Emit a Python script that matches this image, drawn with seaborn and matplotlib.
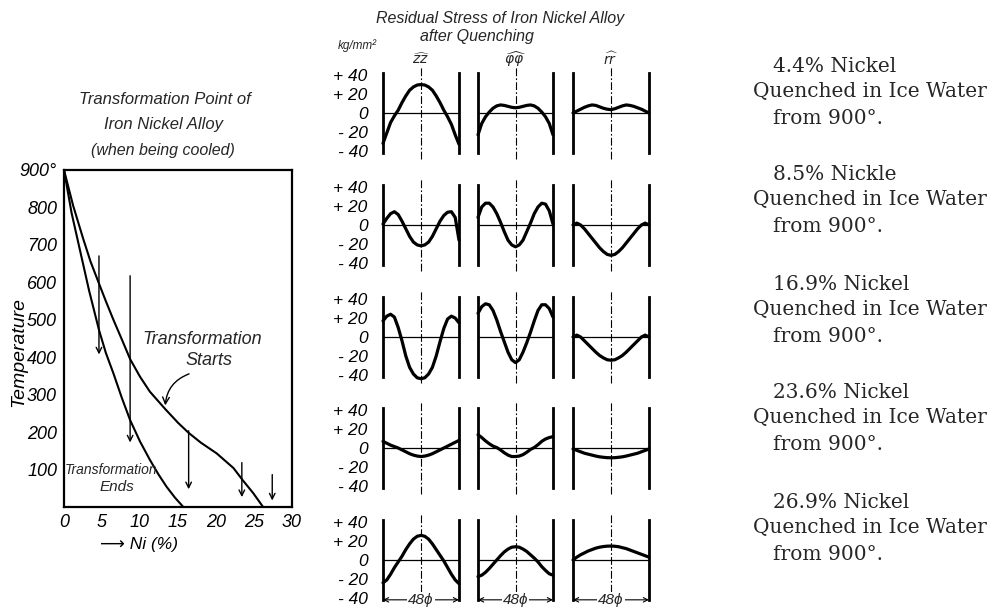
import matplotlib
matplotlib.use("Agg")
import matplotlib.pyplot as plt
import seaborn as sns

sns.set_theme(style="white")
HAND = ["Liberation Sans Narrow", "Liberation Sans", "DejaVu Sans"]
PRINT = ["DejaVu Serif"]
plt.rcParams["font.family"] = HAND
plt.rcParams["mathtext.fontset"] = "dejavusans"
plt.rcParams["axes.edgecolor"] = "black"

W, H = 997, 609

# ── transformation point curves (Ni %, temperature) ─────────────────────────
NI_START = [0, 1.2, 2.5, 3.5, 4.6, 5.5, 6.5, 7.6, 8.7, 10, 11.3, 13.3, 15, 16.4,
            18, 20.1, 22.3, 23.5, 24.9, 26.2]
T_START = [900, 805, 718, 655, 597, 550, 500, 448, 395, 348, 308, 262, 225, 198,
           172, 143, 104, 72, 37, 0]
NI_END = [0, 1.0, 2.1, 3.3, 4.6, 5.5, 6.5, 7.6, 8.7, 10, 11.3, 12.4, 13.5, 14.6, 15.7]
T_END = [900, 785, 686, 578, 473, 412, 357, 292, 232, 175, 126, 88, 54, 25, 0]

# quenched samples marked with arrows
ARROW_NI = [4.6, 8.7, 16.4, 23.4, 27.4]
ARROW_TOP = [678, 625, 211, 126, 94]
ARROW_BOTTOM = [400, 165, 40, 19, 10]

NI_TICKS = [0, 5, 10, 15, 20, 25, 30]
TEMP_TICKS = [100, 200, 300, 400, 500, 600, 700, 800, 900]
TEMP_LABELS = ["100", "200", "300", "400", "500", "600", "700", "800", "900°"]

# ── residual stress (kg/mm²) along the diameter, -1 .. +1 ───────────────────
X_POS = [-1.0, -0.9, -0.8, -0.7, -0.6, -0.5, -0.4, -0.3, -0.2, -0.1, 0.0,
         0.1, 0.2, 0.3, 0.4, 0.5, 0.6, 0.7, 0.8, 0.9, 1.0]

ZZ_44 = [-32, -21, -10, -3, 3, 11, 18, 24, 27.5, 29.5, 30, 29.5, 27.5, 24, 18, 11, 3, -4, -12, -23, -33]
PHI_44 = [-23, -11, -4, 1, 5, 7.5, 8.5, 8, 7, 6, 5.5, 6, 7, 8, 8.5, 7.5, 5, 1, -4, -11, -23]
RR_44 = [0, 2, 4, 6, 7.5, 8.5, 8, 6.5, 5, 4, 3.5, 4.5, 6, 7.5, 8.5, 8, 7, 5.5, 4, 2, 0]

ZZ_85 = [1, 7, 12, 14, 11, 4, -4, -12, -18, -21, -22, -21, -18, -12, -4, 4, 10, 13.5, 14, 8, -16]
PHI_85 = [8, 19, 23, 23, 19, 12, 3, -7, -16, -21, -23, -21, -16, -7, 2, 12, 19, 23, 22, 15, 1]
RR_85 = [0, 2, 0, -4, -9, -14, -19, -24, -28, -31, -32, -31, -28, -24, -19, -14, -9, -4, 0, 2, 0]

ZZ_169 = [17, 22, 24, 21, 10, -4, -20, -32, -39, -43, -44, -43, -39, -32, -20, -5, 9, 19, 22, 20, 15]
PHI_169 = [25, 32, 35, 34, 28, 18, 6, -5, -16, -24, -27, -24, -16, -6, 5, 17, 28, 34, 34, 30, 21]
RR_169 = [0, 2, 0, -4, -8, -12, -16, -19.5, -22, -24, -24.5, -24, -22, -19.5, -16, -12, -8, -4, 0, 2, 0]

ZZ_236 = [7, 5, 3, 1.5, 0, -2, -4, -6, -7.5, -8.5, -9, -8.5, -7.5, -6, -4, -2, 0, 2, 4, 6, 8]
PHI_236 = [14, 11, 7.5, 4.5, 2, 0.5, -2, -5, -7.5, -9, -9, -8.5, -7, -4.5, -1.5, 0.5, 3.5, 7, 9.5, 11, 12]
RR_236 = [-1, -2.5, -4, -5.5, -6.5, -7.5, -8.5, -9.3, -9.8, -10.2, -10.3, -10.2, -9.8, -9.3, -8.5, -7.5, -6.5, -5.5, -4, -2.5, -1]

ZZ_269 = [-24, -21, -15, -8, -2, 4, 11, 17, 22, 25, 26, 25, 22, 17, 11, 5, -1, -8, -15, -21, -25]
PHI_269 = [-17.5, -16, -13, -9, -4.5, 0, 4.5, 8.5, 11.5, 13.5, 14, 13.5, 11.5, 9, 5.5, 2, -2, -7, -11, -14.5, -16]
RR_269 = [0, 3, 5.5, 7.5, 9.5, 11, 12.5, 13.5, 14.2, 14.6, 14.7, 14.5, 14, 13, 12, 10.5, 9, 7.5, 6, 4.5, 3]

STRESS_ROWS = [
    [ZZ_44, PHI_44, RR_44],
    [ZZ_85, PHI_85, RR_85],
    [ZZ_169, PHI_169, RR_169],
    [ZZ_236, PHI_236, RR_236],
    [ZZ_269, PHI_269, RR_269],
]
STRESS_TICKS = [-40, -20, 0, 20, 40]
STRESS_LABELS = ["- 40", "- 20", "0", "+ 20", "+ 40"]
COMPONENTS = [r"$\widehat{zz}$", r"$\widehat{\varphi\varphi}$", r"$\widehat{rr}$"]

NICKEL_LABELS = ["4.4% Nickel", "8.5% Nickle", "16.9% Nickel", "23.6% Nickel", "26.9% Nickel"]

# ── layout (pixels) ─────────────────────────────────────────────────────────
ROW_ZERO_PX = [113, 225, 337, 448, 560]
COL_WALL_PX = [(383, 459), (478, 553), (573, 649)]
TEXT_TOP_PX = [67, 175, 285, 393, 503]


def fx(px):
    return px / W


def fy(py):
    return 1 - py / H


fig = plt.figure(figsize=(W / 100, H / 100), dpi=100)

# ── left: transformation diagram ───────────────────────────────────────────
ax = fig.add_axes([fx(64), fy(507), (292 - 64) / W, (507 - 170) / H])
sns.lineplot(x=NI_START, y=T_START, ax=ax, color="black", linewidth=1.5)
sns.lineplot(x=NI_END, y=T_END, ax=ax, color="black", linewidth=1.5)
for ni, top, bot in zip(ARROW_NI, ARROW_TOP, ARROW_BOTTOM):
    ax.annotate("", xy=(ni, bot), xytext=(ni, top),
                arrowprops=dict(arrowstyle="->", lw=1.0, color="black", mutation_scale=10))
ax.set_xlim(0, 30)
ax.set_ylim(0, 900)
ax.set_xticks(NI_TICKS)
ax.set_xticklabels([str(t) for t in NI_TICKS], fontsize=13, style="italic")
ax.set_yticks(TEMP_TICKS)
ax.set_yticklabels(TEMP_LABELS, fontsize=13, style="italic")
ax.tick_params(axis="x", direction="in", length=3, width=1, pad=5, colors="black")
ax.tick_params(axis="y", length=0, pad=5, colors="black")
for sp in ax.spines.values():
    sp.set_linewidth(1.6)
    sp.set_color("black")
ax.set_ylabel("Temperature", fontsize=14, style="italic", color="black")
ax.yaxis.set_label_coords(-0.16, 0.46)
ax.set_xlabel("\u27f6 Ni (%)", fontsize=12.5, style="italic", color="black")
ax.xaxis.set_label_coords(0.33, -0.09)

ax.text(18.2, 446, "Transformation", fontsize=13, style="italic", ha="center", va="center")
ax.text(19.1, 390, "Starts", fontsize=13, style="italic", ha="center", va="center")
ax.annotate("", xy=(13.3, 264), xytext=(16.8, 358),
            arrowprops=dict(arrowstyle="->", lw=1.0, color="black",
                            connectionstyle="arc3,rad=0.35"))
ax.text(6.2, 99, "Transformation", fontsize=10, style="italic", ha="center", va="center")
ax.text(7.0, 53, "Ends", fontsize=11, style="italic", ha="center", va="center")

fig.text(fx(165), fy(100), "Transformation Point of", fontsize=12, style="italic",
         ha="center", va="center")
fig.text(fx(163), fy(125), "Iron Nickel Alloy", fontsize=12, style="italic",
         ha="center", va="center")
fig.text(fx(163), fy(150), "(when being cooled)", fontsize=11.5, style="italic",
         ha="center", va="center")

# ── middle: residual stress panels ─────────────────────────────────────────
fig.text(fx(500), fy(18), "Residual Stress of Iron Nickel Alloy", fontsize=11.5,
         style="italic", ha="center", va="center")
fig.text(fx(477), fy(36), "after Quenching", fontsize=11.5, style="italic",
         ha="center", va="center")
fig.text(fx(357), fy(46), "kg/mm²", fontsize=8.5, style="italic", ha="center", va="center")

last = len(ROW_ZERO_PX) - 1
for r, zero in enumerate(ROW_ZERO_PX):
    for c, (left, right) in enumerate(COL_WALL_PX):
        sax = fig.add_axes([fx(left), fy(zero + 55), (right - left) / W, 110 / H])
        sns.lineplot(x=X_POS, y=STRESS_ROWS[r][c], ax=sax, color="black",
                     linewidth=2.3, clip_on=False)
        sax.set_xlim(-1, 1)
        sax.set_ylim(-58, 58)
        sax.axhline(0, color="black", lw=0.9)
        sax.vlines(0, -48, 50, colors="black", linestyles=(0, (7, 2, 1.5, 2)), lw=0.8)
        sax.set_facecolor("none")
        sax.set_xticks([])
        sax.set_xlabel("")
        sax.set_ylabel("")
        for side in ("top", "bottom"):
            sax.spines[side].set_visible(False)
        for side in ("left", "right"):
            sax.spines[side].set_bounds(-42, 42)
            sax.spines[side].set_linewidth(2.0)
            sax.spines[side].set_color("black")
        if c == 0:
            sax.set_yticks(STRESS_TICKS)
            sax.set_yticklabels(STRESS_LABELS, fontsize=12.5, style="italic")
            sax.tick_params(axis="y", direction="in", length=4, width=1.2, pad=11,
                            colors="black")
        else:
            sax.set_yticks([])
        if r == 0:
            sax.text(0, 57, COMPONENTS[c], ha="center", va="center", fontsize=10)
        if r == last:
            sax.annotate("", xy=(-1, -42), xytext=(1, -42),
                         arrowprops=dict(arrowstyle="<->", lw=0.8, color="black",
                                         mutation_scale=8, shrinkA=0, shrinkB=0),
                         annotation_clip=False)
            sax.text(0, -42, "48ϕ", ha="center", va="center", fontsize=11, style="italic",
                     bbox=dict(facecolor="white", edgecolor="none", pad=0.5))

# ── right: sample descriptions ─────────────────────────────────────────────
for label, top in zip(NICKEL_LABELS, TEXT_TOP_PX):
    fig.text(fx(773), fy(top), label, fontsize=14.5, family=PRINT, va="center", ha="left")
    fig.text(fx(753), fy(top + 25), "Quenched in Ice Water", fontsize=14.5, family=PRINT,
             va="center", ha="left")
    fig.text(fx(773), fy(top + 51), "from 900°.", fontsize=14.5, family=PRINT,
             va="center", ha="left")

fig.savefig("out.png", dpi=100, facecolor="white")
